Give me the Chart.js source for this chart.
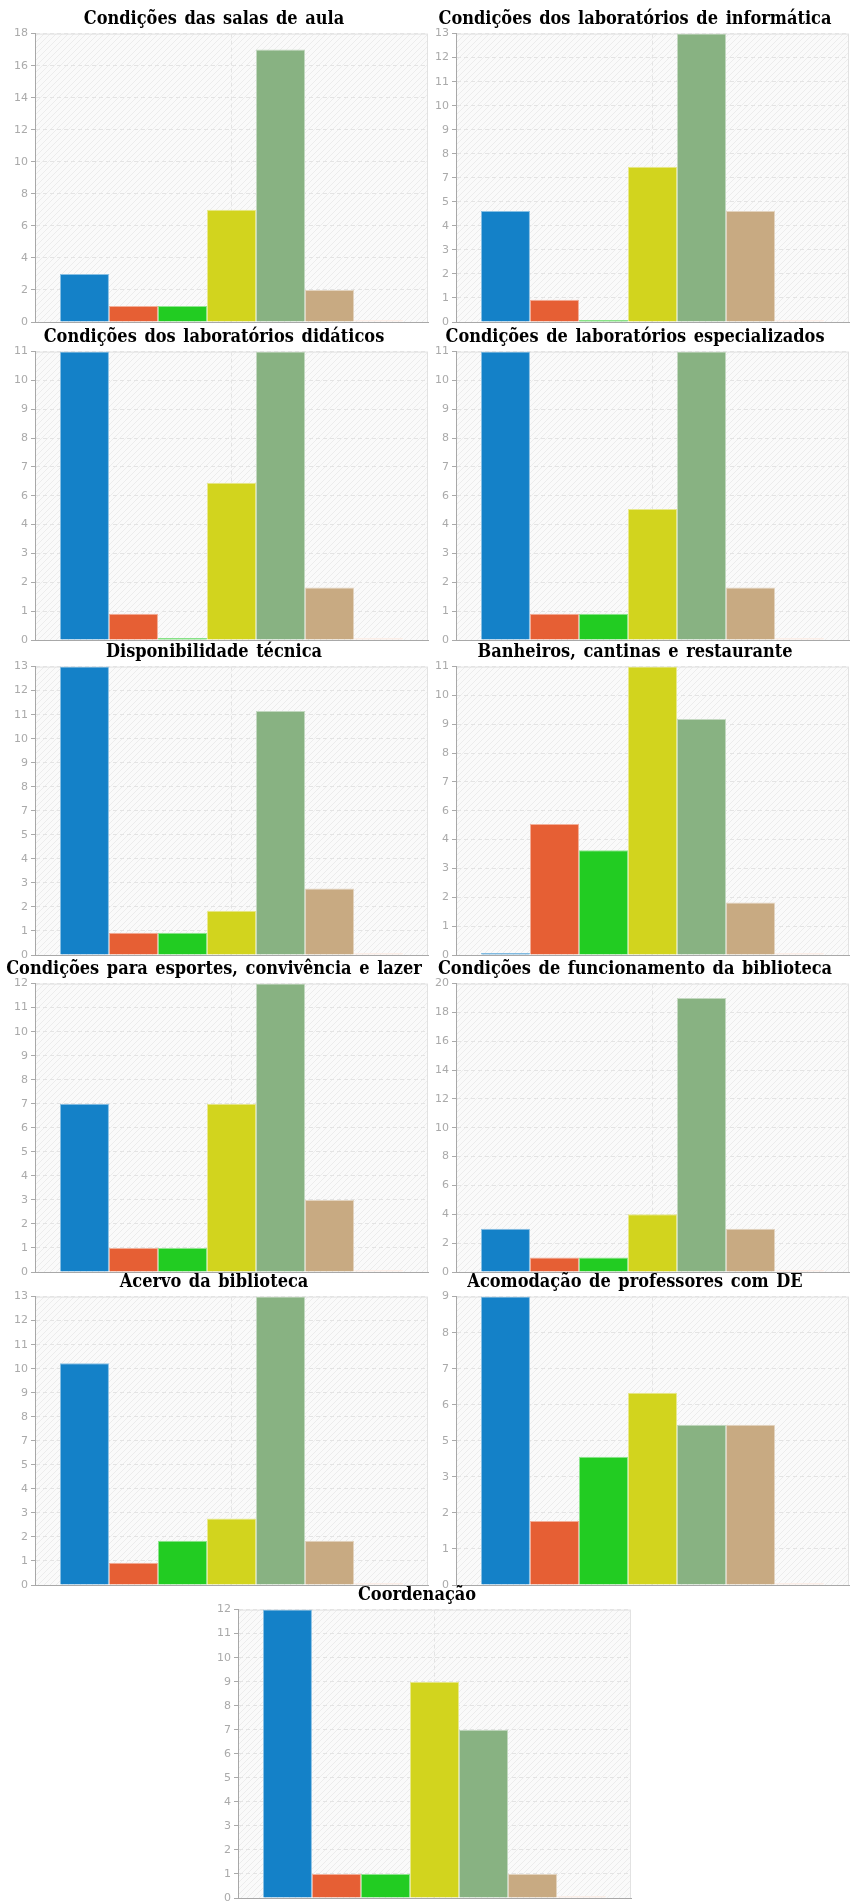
<!DOCTYPE html>
<html>
<head>
<meta charset="utf-8">
<script src="https://cdn.jsdelivr.net/npm/chart.js@4/dist/chart.umd.min.js"></script>
<style>
body { margin: 0; background: #fff; }
#wrap { position: relative; width: 851px; height: 1901px; overflow: hidden; }
.box { position: absolute; width: 430px; height: 328px; }
</style>
</head>
<body>
<div id="wrap"></div>
<script>
var TITLES = [
    'Condições das salas de aula',
    'Condições dos laboratórios de informática',
    'Condições dos laboratórios didáticos',
    'Condições de laboratórios especializados',
    'Disponibilidade técnica',
    'Banheiros, cantinas e restaurante',
    'Condições para esportes, convivência e lazer',
    'Condições de funcionamento da biblioteca',
    'Acervo da biblioteca',
    'Acomodação de professores com DE',
    'Coordenação'
];

var SALAS = [3, 1, 1, 7, 17, 2, 0];
var LAB_INFO = [5, 1, 0, 7, 13, 5, 0];
var LAB_DIDAT = [11, 1, 0, 6, 11, 2, 0];
var LAB_ESPEC = [11, 1, 1, 5, 11, 2, 0];
var DISP_TEC = [13, 1, 1, 2, 11, 3, 0];
var BANHEIROS = [0, 5, 4, 11, 9, 2, 0];
var ESPORTES = [7, 1, 1, 7, 12, 3, 0];
var BIBLIO_FUNC = [3, 1, 1, 4, 19, 3, 0];
var ACERVO = [10, 1, 2, 3, 13, 2, 0];
var ACOMOD = [9, 2, 4, 6, 5, 5, 0];
var COORD = [12, 1, 1, 9, 7, 1, 0];

var VALUES = [SALAS, LAB_INFO, LAB_DIDAT, LAB_ESPEC, DISP_TEC, BANHEIROS, ESPORTES, BIBLIO_FUNC, ACERVO, ACOMOD, COORD];

// y axis top and number of divisions (labels are the rounded division values)
var Y_MAX = [18, 13, 11, 11, 13, 11, 12, 20, 13, 9, 12];
var Y_DIVS = [9, 12, 10, 10, 12, 10, 12, 10, 12, 8, 12];

var SERIES = ['1', '2', '3', '4', '5', '6', '7'];
var COLORS = ['#1481c8', '#e65f34', '#22cc22', '#d2d41e', '#88b282', '#c8aa82', '#fbe4d8'];
var BORDERS = ['#89c0e3', '#f2af99', '#90e590', '#e8e98e', '#c3d8c0', '#e3d4c0', '#fdf1eb'];

var BOXES = [[0, 0], [421, 0], [0, 318], [421, 318], [0, 633], [421, 633],
             [0, 950], [421, 950], [0, 1263], [421, 1263], [203, 1576]];

var HATCH = makeHatch();

function makeHatch() {
    var c = document.createElement('canvas');
    c.width = 6; c.height = 6;
    var x = c.getContext('2d');
    x.fillStyle = '#fafafa';
    x.fillRect(0, 0, 6, 6);
    x.strokeStyle = '#ececec';
    x.lineWidth = 1;
    x.beginPath();
    x.moveTo(0, 6); x.lineTo(6, 0);
    x.moveTo(-3, 3); x.lineTo(3, -3);
    x.moveTo(3, 9); x.lineTo(9, 3);
    x.stroke();
    return c;
}

var plotBg = {
    id: 'plotBg',
    beforeDraw: function(chart) {
        var a = chart.chartArea, ctx = chart.ctx;
        ctx.save();
        ctx.fillStyle = ctx.createPattern(HATCH, 'repeat');
        ctx.fillRect(a.left, a.top, a.right - a.left, a.bottom - a.top);
        ctx.strokeStyle = '#e2e2e2';
        ctx.lineWidth = 1;
        ctx.strokeRect(a.left + 0.5, a.top + 0.5, a.right - a.left - 1, a.bottom - a.top);
        ctx.restore();
        ctx.wordSpacing = '2px';
    }
};

function drawChart(i) {
    var box = document.createElement('div');
    box.className = 'box';
    box.style.left = BOXES[i][0] + 'px';
    box.style.top = BOXES[i][1] + 'px';
    var cv = document.createElement('canvas');
    cv.width = 430; cv.height = 328;
    box.appendChild(cv);
    document.getElementById('wrap').appendChild(box);

    var vals = VALUES[i];
    var datasets = SERIES.map(function(s, j) {
        return {
            label: s,
            data: [vals[j]],
            backgroundColor: COLORS[j],
            borderColor: BORDERS[j],
            borderWidth: 1,
            minBarLength: 2,
            barPercentage: 1,
            categoryPercentage: 0.873
        };
    });

    new Chart(cv, {
        type: 'bar',
        data: { labels: [''], datasets: datasets },
        options: {
            responsive: false,
            animation: false,
            layout: { padding: { right: 2, bottom: 6 } },
            plugins: {
                legend: { display: false },
                tooltip: { enabled: false },
                title: {
                    display: true,
                    text: TITLES[i],
                    color: '#000',
                    font: { family: '"DejaVu Serif Condensed", "DejaVu Serif", serif', size: 18, weight: 'bold' },
                    padding: { top: 9, bottom: 3 }
                }
            },
            scales: {
                x: {
                    grid: { offset: false, drawTicks: false, color: '#e4e4e4' },
                    border: { color: '#a8a8a8', dash: [4, 3] },
                    ticks: { display: false }
                },
                y: {
                    min: 0,
                    max: Y_MAX[i],
                    afterBuildTicks: function(scale) {
                        var t = [];
                        for (var k = 0; k <= Y_DIVS[i]; k++) {
                            t.push({ value: Y_MAX[i] * k / Y_DIVS[i] });
                        }
                        scale.ticks = t;
                    },
                    afterFit: function(scale) {
                        scale.width = 35;
                        scale.paddingTop = 0;
                        scale.paddingBottom = 0;
                    },
                    ticks: {
                        color: '#aaa',
                        font: { family: 'DejaVu Sans', size: 11 },
                        padding: 3,
                        autoSkip: false,
                        callback: function(v) { return Math.round(v); }
                    },
                    grid: { color: '#e4e4e4', tickColor: '#aaa', tickLength: 4, tickBorderDash: [] },
                    border: { color: '#a8a8a8', dash: [4, 3] }
                }
            }
        },
        plugins: [plotBg]
    });
}

for (var i = 0; i < TITLES.length; i++) {
    drawChart(i);
}
</script>
</body>
</html>
